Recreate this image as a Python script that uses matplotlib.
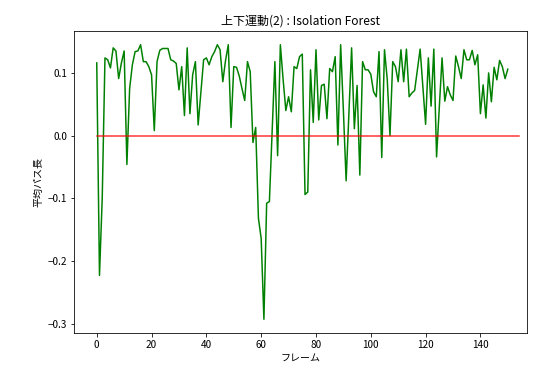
import numpy as np
import matplotlib
matplotlib.use("Agg")
import matplotlib.pyplot as plt

plt.rcParams['font.family'] = ['Noto Sans CJK JP', 'DejaVu Sans']
plt.rcParams['axes.unicode_minus'] = True

# 平均パス長 (Isolation Forest の decision_function 値) per frame
path_len = [
    0.116, -0.223, -0.100, 0.124, 0.121, 0.108, 0.140, 0.135, 0.091, 0.116,
    0.135, -0.046, 0.075, 0.113, 0.134, 0.135, 0.145, 0.118, 0.118, 0.110,
    0.097, 0.008, 0.118, 0.136, 0.139, 0.139, 0.139, 0.121, 0.119, 0.115,
    0.073, 0.110, 0.032, 0.140, 0.035, 0.097, 0.118, 0.017, 0.070, 0.121,
    0.124, 0.113, 0.126, 0.134, 0.145, 0.137, 0.086, 0.120, 0.145, 0.013,
    0.110, 0.109, 0.095, 0.075, 0.056, 0.118, 0.102, -0.011, 0.013, -0.132,
    -0.164, -0.293, -0.108, -0.105, 0.005, 0.118, -0.032, 0.145, 0.090, 0.040,
    0.062, 0.038, 0.110, 0.107, 0.126, 0.130, -0.094, -0.090, 0.105, 0.021,
    0.137, 0.025, 0.080, 0.082, 0.027, 0.107, 0.102, 0.126, -0.015, 0.145,
    0.040, -0.072, 0.035, 0.140, 0.011, 0.080, -0.063, 0.118, 0.105, 0.105,
    0.098, 0.070, 0.062, 0.134, -0.035, 0.137, 0.090, 0.000, 0.118, 0.110,
    0.086, 0.137, 0.086, 0.138, 0.062, 0.068, 0.072, 0.105, 0.138, 0.078,
    0.018, 0.124, 0.047, 0.138, -0.034, 0.045, 0.124, 0.055, 0.078, 0.065,
    0.056, 0.127, 0.110, 0.091, 0.137, 0.121, 0.121, 0.136, 0.113, 0.129,
    0.035, 0.081, 0.028, 0.100, 0.054, 0.109, 0.089, 0.120, 0.110, 0.091,
    0.106,
]
frames = np.arange(len(path_len))

# threshold line
thr_x = [0, 154]
thr_y = [0, 0]

fig = plt.figure(figsize=(534 / 72, 374 / 72), dpi=72)
ax = fig.add_axes([74 / 534, 1 - 333 / 374, (527 - 74) / 534, (333 - 31) / 374])

ax.plot(frames, path_len, color='green')
ax.plot(thr_x, thr_y, color='red', alpha=0.8)

ax.set_xlim(-8.3, 157)
ax.set_title('上下運動(2) : Isolation Forest')
ax.set_xlabel('フレーム')
ax.set_ylabel('平均パス長')

fig.savefig('out.png', dpi=72)
